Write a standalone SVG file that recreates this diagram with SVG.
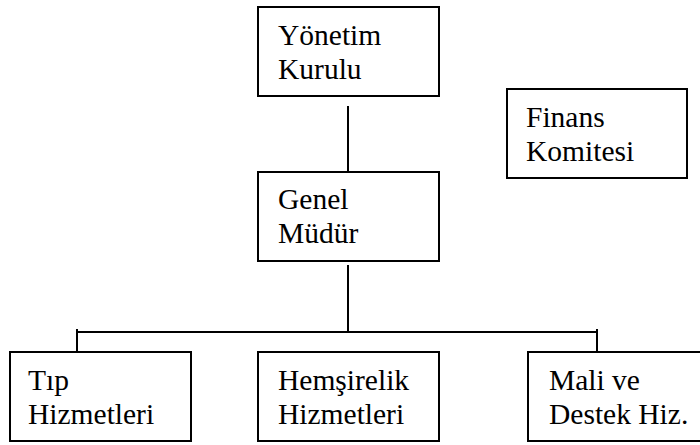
<svg xmlns="http://www.w3.org/2000/svg" width="700" height="445" viewBox="0 0 700 445">
<style>
.box{fill:#fff;stroke:#000;stroke-width:2}
.t{font-family:"Liberation Serif","Times New Roman",serif;font-size:29.5px;fill:#000}
.c{stroke:#000;stroke-width:2;fill:none}
</style>
<rect width="700" height="445" fill="#fff"/>
<g id="connectors">
<line class="c" x1="348" y1="106" x2="348" y2="172"/>
<line class="c" x1="348" y1="265" x2="348" y2="332"/>
<line class="c" x1="77" y1="332" x2="597" y2="332"/>
<line class="c" x1="77" y1="329" x2="77" y2="352"/>
<line class="c" x1="597" y1="329" x2="597" y2="352"/>
</g>
<g id="yonetim">
<rect class="box" x="258" y="7" width="181" height="89"/>
<text class="t" x="278" y="45">Yönetim</text>
<text class="t" x="278" y="79">Kurulu</text>
</g>
<g id="finans">
<rect class="box" x="507" y="89" width="180" height="89"/>
<text class="t" x="526" y="127">Finans</text>
<text class="t" x="526" y="161">Komitesi</text>
</g>
<g id="genel">
<rect class="box" x="258" y="172" width="181" height="89"/>
<text class="t" x="278" y="209">Genel</text>
<text class="t" x="278" y="243">Müdür</text>
</g>
<g id="tip">
<rect class="box" x="10" y="352" width="181" height="89"/>
<text class="t" x="28" y="390">Tıp</text>
<text class="t" x="28" y="424">Hizmetleri</text>
</g>
<g id="hemsirelik">
<rect class="box" x="258" y="352" width="181" height="89"/>
<text class="t" x="278" y="390">Hemşirelik</text>
<text class="t" x="278" y="424">Hizmetleri</text>
</g>
<g id="mali">
<rect class="box" x="528" y="352" width="180" height="89"/>
<text class="t" x="549" y="390">Mali ve</text>
<text class="t" x="549" y="424">Destek Hiz.</text>
</g>
</svg>
